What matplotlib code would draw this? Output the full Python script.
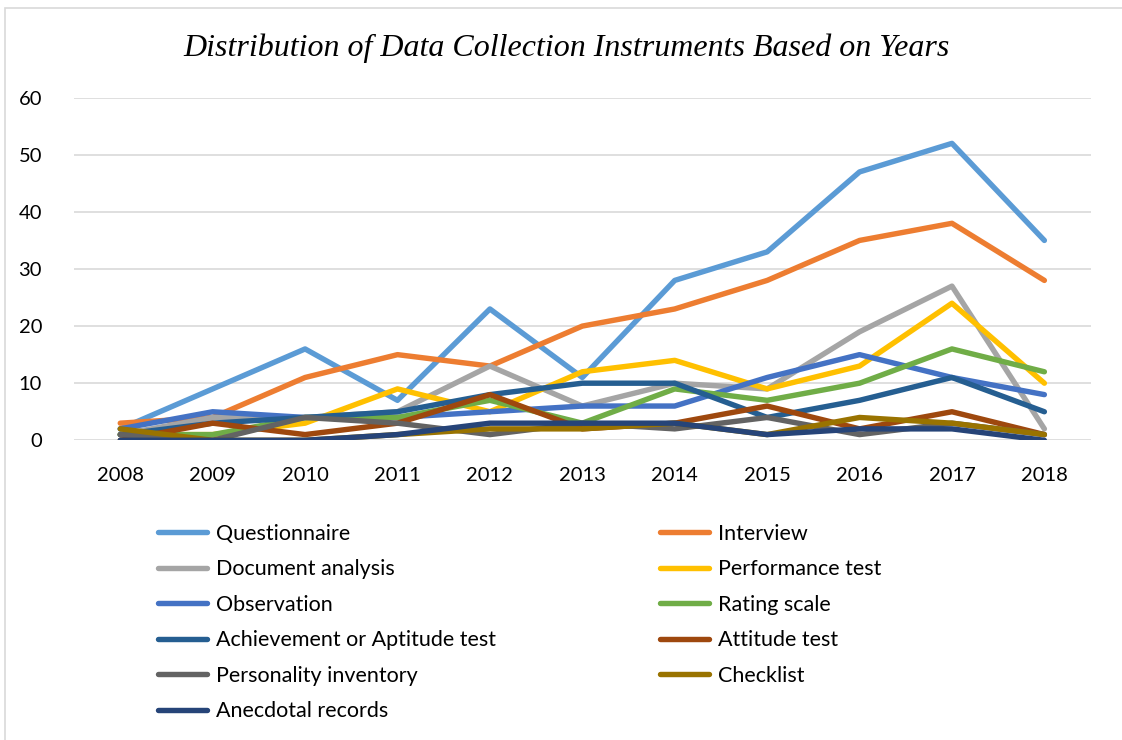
import matplotlib
matplotlib.use("Agg")
import matplotlib.pyplot as plt
from matplotlib.lines import Line2D
from matplotlib.patches import Rectangle

years = [2008, 2009, 2010, 2011, 2012, 2013, 2014, 2015, 2016, 2017, 2018]

questionnaire = [2, 9, 16, 7, 23, 11, 28, 33, 47, 52, 35]
interview = [3, 4, 11, 15, 13, 20, 23, 28, 35, 38, 28]
document_analysis = [1, 4, 4, 5, 13, 6, 10, 9, 19, 27, 2]
performance_test = [1, 1, 3, 9, 5, 12, 14, 9, 13, 24, 10]
observation = [2, 5, 4, 4, 5, 6, 6, 11, 15, 11, 8]
rating_scale = [1, 1, 4, 4, 7, 3, 9, 7, 10, 16, 12]
achievement = [1, 3, 4, 5, 8, 10, 10, 4, 7, 11, 5]
attitude = [0, 3, 1, 3, 8, 2, 3, 6, 2, 5, 1]
personality = [1, 0, 4, 3, 1, 3, 2, 4, 1, 3, 1]
checklist = [2, 0, 0, 1, 2, 2, 3, 1, 4, 3, 1]
anecdotal = [0, 0, 0, 1, 3, 3, 3, 1, 2, 2, 0]

series_names = ["Questionnaire", "Interview", "Document analysis", "Performance test",
                "Observation", "Rating scale", "Achievement or Aptitude test",
                "Attitude test", "Personality inventory", "Checklist", "Anecdotal records"]
series_values = [questionnaire, interview, document_analysis, performance_test,
                 observation, rating_scale, achievement, attitude, personality,
                 checklist, anecdotal]
colors = ["#5B9BD5", "#ED7D31", "#A5A5A5", "#FFC000", "#4472C4", "#70AD47",
          "#255E91", "#9E480E", "#636363", "#997300", "#264478"]

fig = plt.figure(figsize=(11.22, 7.4), dpi=100)
ax = fig.add_axes([0.066, 0.405, 0.906, 0.463])

# chart border
fig.patches.append(Rectangle((5 / 1122, -0.01), 1.02, 1 - 8 / 740 + 0.01,
                             transform=fig.transFigure, fill=False,
                             edgecolor="#D9D9D9", linewidth=1.2))

x = list(range(len(years)))
for name, vals, c in zip(series_names, series_values, colors):
    ax.plot(x, vals, color=c, linewidth=3.9, solid_capstyle="round",
            solid_joinstyle="round", label=name)

ax.set_xlim(-0.5, len(years) - 0.5)
ax.set_ylim(0, 60)
ax.set_yticks(range(0, 61, 10))
ax.set_xticks(x)
ax.set_xticklabels([str(y) for y in years])
ax.grid(axis="y", color="#D9D9D9", linewidth=1.2)
ax.set_axisbelow(True)
for s in ax.spines.values():
    s.set_visible(False)
ax.tick_params(length=0, labelsize=14.5, colors="black")
ax.tick_params(axis="y", pad=23)
ax.tick_params(axis="x", pad=19)
for lab in ax.get_xticklabels() + ax.get_yticklabels():
    lab.set_fontfamily("Lato")

fig.text(0.505, 0.935, "Distribution of Data Collection Instruments Based on Years",
         ha="center", va="center", fontsize=23, style="italic",
         family="Liberation Serif")

handles = [Line2D([], [], color=c, linewidth=3.9, solid_capstyle="round") for c in colors]
left_idx = [0, 2, 4, 6, 8, 10]
right_idx = [1, 3, 5, 7, 9]
common = dict(frameon=False, handlelength=2.3, handletextpad=0.42,
              labelspacing=0.72, borderpad=0, loc="upper left",
              prop={"family": "Lato", "size": 15.5})
leg1 = fig.legend([handles[i] for i in left_idx], [series_names[i] for i in left_idx],
                  bbox_to_anchor=(147 / 1122, 1 - 513 / 740), **common)
leg2 = fig.legend([handles[i] for i in right_idx], [series_names[i] for i in right_idx],
                  bbox_to_anchor=(649 / 1122, 1 - 513 / 740), **common)

fig.savefig("out.png", dpi=100)
